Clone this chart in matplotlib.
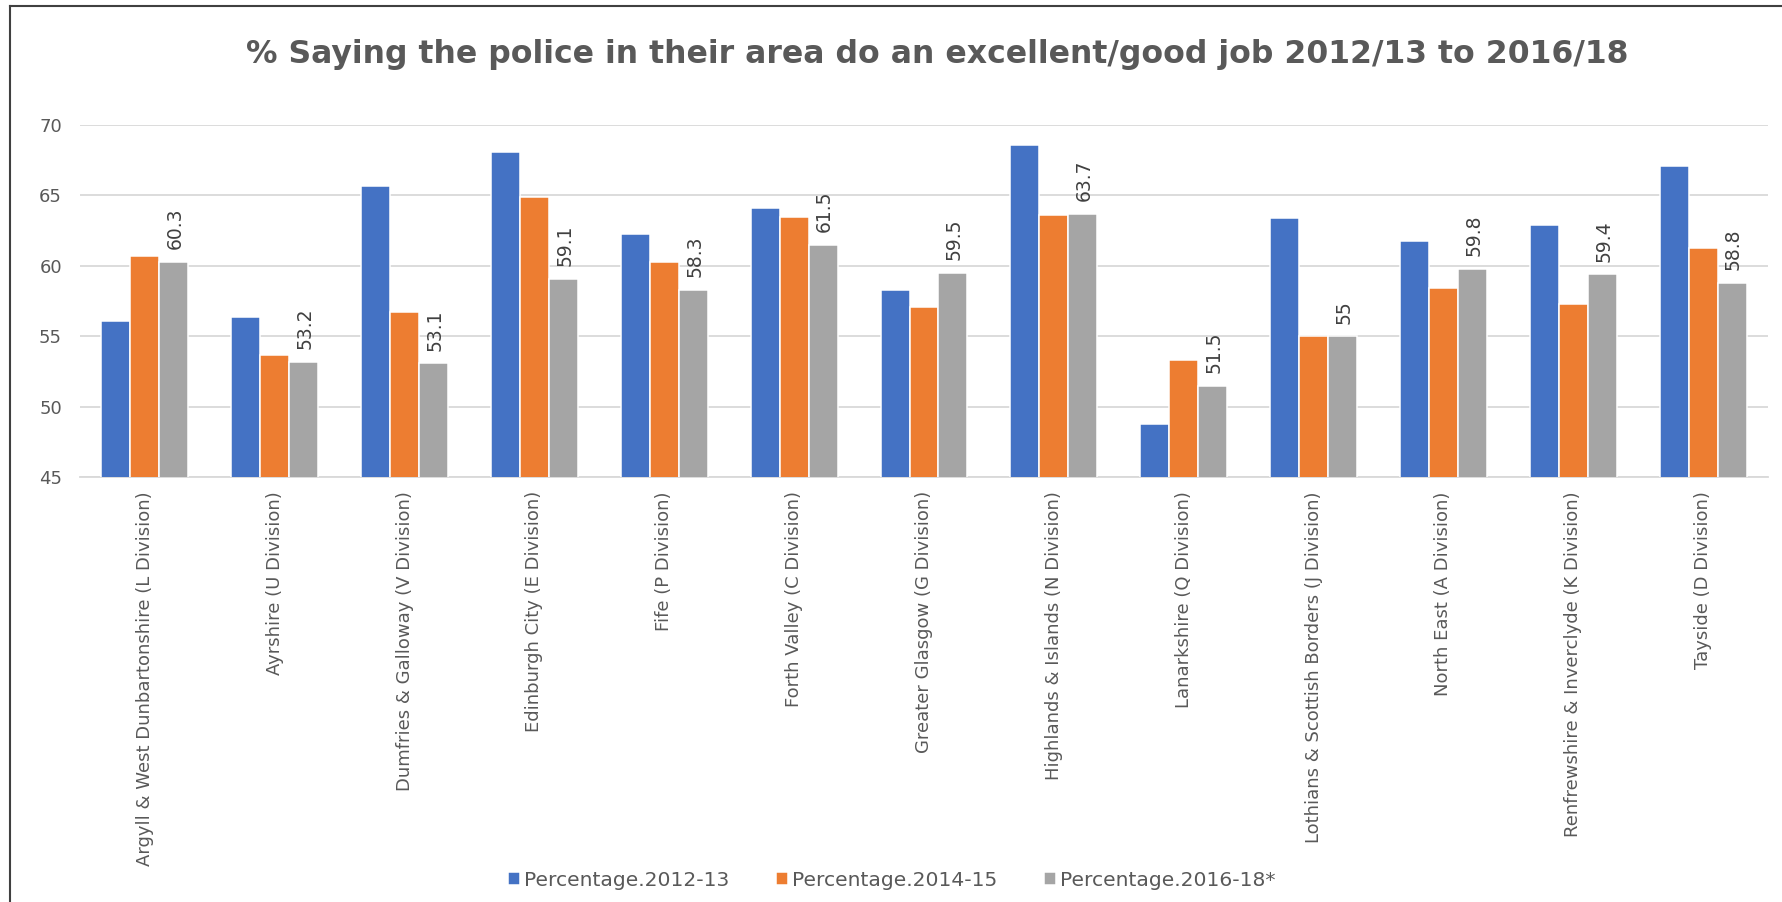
import matplotlib
matplotlib.use("Agg")
import matplotlib.pyplot as plt
from matplotlib.lines import Line2D
import numpy as np

plt.rcParams['font.family'] = ['DejaVu Sans']

categories = [
    "Argyll & West Dunbartonshire (L Division)",
    "Ayrshire (U Division)",
    "Dumfries & Galloway (V Division)",
    "Edinburgh City (E Division)",
    "Fife (P Division)",
    "Forth Valley (C Division)",
    "Greater Glasgow (G Division)",
    "Highlands & Islands (N Division)",
    "Lanarkshire (Q Division)",
    "Lothians & Scottish Borders (J Division)",
    "North East (A Division)",
    "Renfrewshire & Inverclyde (K Division)",
    "Tayside (D Division)",
]
pct_2012_13 = [56.1, 56.4, 65.7, 68.1, 62.3, 64.1, 58.3, 68.6, 48.8, 63.4, 61.8, 62.9, 67.1]
pct_2014_15 = [60.7, 53.7, 56.7, 64.9, 60.3, 63.5, 57.1, 63.6, 53.3, 55.0, 58.4, 57.3, 61.3]
pct_2016_18 = [60.3, 53.2, 53.1, 59.1, 58.3, 61.5, 59.5, 63.7, 51.5, 55.0, 59.8, 59.4, 58.8]
series_names = ["Percentage.2012-13", "Percentage.2014-15", "Percentage.2016-18*"]
y_ticks = [45, 50, 55, 60, 65, 70]

colors = ["#4472C4", "#ED7D31", "#A5A5A5"]
text_grey = "#595959"

W, H = 1783, 902
fig = plt.figure(figsize=(W / 100, H / 100), dpi=100)
fig.patch.set_facecolor("white")

ax_left, ax_right, ax_top, ax_bottom = 80, 1768, 125, 477.3
ax = fig.add_axes([ax_left / W, 1 - ax_bottom / H,
                   (ax_right - ax_left) / W, (ax_bottom - ax_top) / H])

x = np.arange(len(categories))
bw = 0.223
containers = []
for i, (vals, col, name) in enumerate(zip([pct_2012_13, pct_2014_15, pct_2016_18],
                                           colors, series_names)):
    bars = ax.bar(x + (i - 1) * bw, vals, width=bw, color=col, edgecolor="white",
                  linewidth=1.1, label=name, zorder=3)
    containers.append(bars)

# value labels on the latest series
for rect, v in zip(containers[2], pct_2016_18):
    ax.annotate(f"{v:g}", xy=(rect.get_x() + rect.get_width() / 2, v),
                xytext=(1, 9), textcoords="offset points", rotation=90,
                ha="center", va="bottom", fontsize=13.5, color="#404040")

ax.set_xlim(-0.5, len(categories) - 0.5)
ax.set_ylim(45, 70)
ax.set_yticks(y_ticks)
ax.set_yticklabels([str(t) for t in y_ticks])
ax.set_xticks(x)
ax.set_xticklabels(categories, rotation=90, va="top", ha="center")
ax.tick_params(axis="y", length=0, pad=13, labelsize=13, labelcolor=text_grey)
ax.tick_params(axis="x", length=0, pad=10, labelsize=13, labelcolor=text_grey)
ax.grid(axis="y", color="#D9D9D9", linewidth=1.3, zorder=0)
for s in ["top", "right", "left"]:
    ax.spines[s].set_visible(False)
ax.spines["bottom"].set_color("#D9D9D9")
ax.spines["bottom"].set_linewidth(1.3)
ax.set_facecolor("white")

fig.text(937.5 / W, 1 - 54 / H,
         "% Saying the police in their area do an excellent/good job 2012/13 to 2016/18",
         ha="center", va="center", fontsize=22.7, fontweight="bold", color=text_grey)

fig.legend(handles=containers, labels=series_names, loc="center",
           bbox_to_anchor=(892 / W, 1 - 880 / H), ncol=3, frameon=False,
           fontsize=14.6, handlelength=0.6, handleheight=0.6, handletextpad=0.2,
           columnspacing=2.3, labelcolor=text_grey)

# chart frame (left and top edges)
frame_col = "#404040"
fig.add_artist(Line2D([10 / W, 10 / W], [0, 1 - 6 / H], transform=fig.transFigure,
                      color=frame_col, linewidth=1.5))
fig.add_artist(Line2D([10 / W, 1], [1 - 6 / H, 1 - 6 / H], transform=fig.transFigure,
                      color=frame_col, linewidth=1.5))

fig.savefig("out.png", dpi=100, facecolor="white")
